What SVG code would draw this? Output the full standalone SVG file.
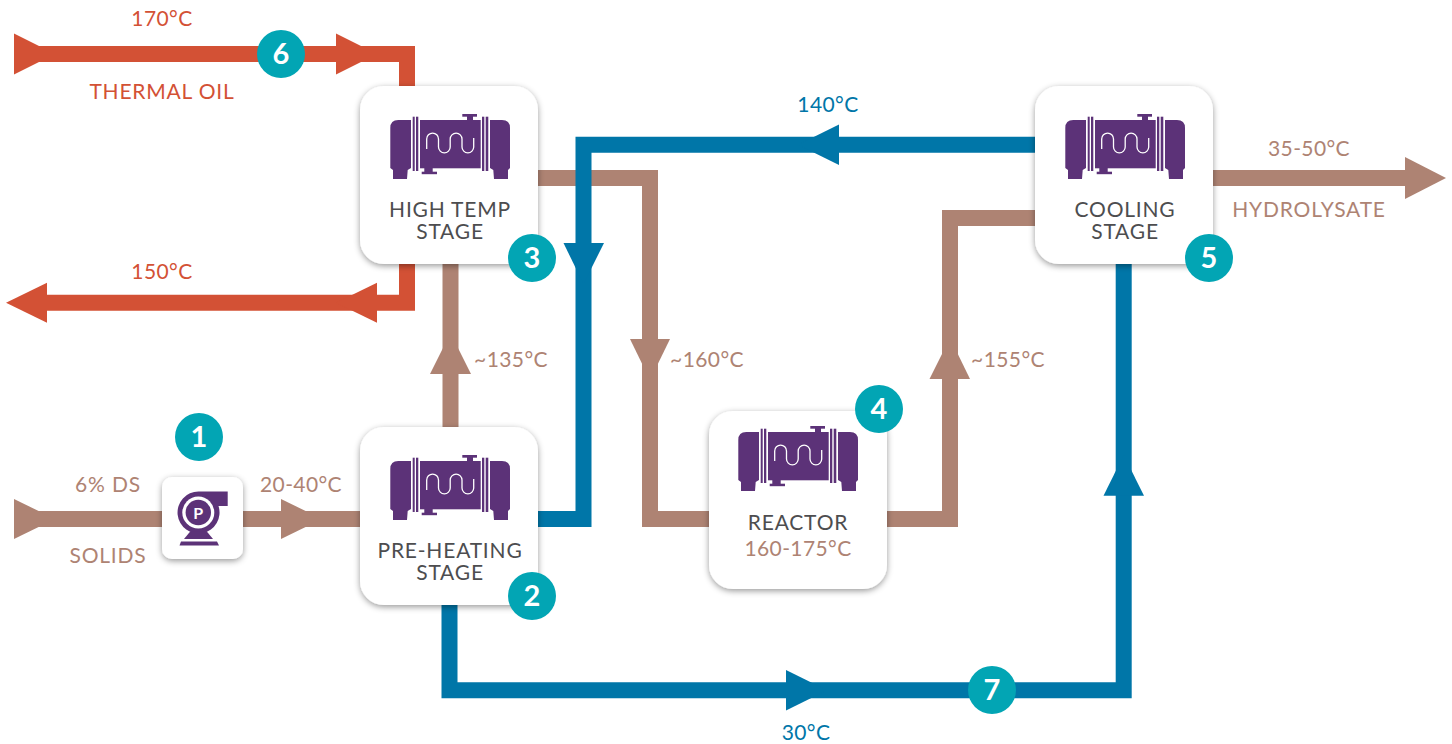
<svg xmlns="http://www.w3.org/2000/svg" width="1452" height="744" viewBox="0 0 1452 744">
<style>
text{font-family:Lato,"Open Sans",sans-serif;font-size:21px;text-anchor:middle;letter-spacing:.8px}
.t{letter-spacing:.4px}
.r{fill:#d35135}.b{fill:#ae8373}.u{fill:#0076a8}.d{fill:#4d4d4f}
.pr{fill:none;stroke:#d35135;stroke-width:16}
.pb{fill:none;stroke:#ae8373;stroke-width:16}
.pu{fill:none;stroke:#0076a8;stroke-width:16}
.box{fill:#fff;filter:url(#sh)}
.c{fill:#02a5b4}
.n{fill:#fff;font-size:29px;font-weight:700;letter-spacing:0}
.i{fill:#5c3278}
</style>
<defs>
<filter id="sh" x="-15%" y="-15%" width="130%" height="130%"><feDropShadow dx="0" dy="2" stdDeviation="3" flood-color="#000" flood-opacity=".4"/></filter>
<g id="hx">
<path class="i" d="M390.300 128q0-8 8-8H411V168L407.700 170L407 179H393V170L390.300 168Z"/>
<rect class="i" x="412.700" y="116.700" width="2" height="54.300"/><rect class="i" x="416" y="116.700" width="2.300" height="54.300"/>
<rect class="i" x="420" y="120" width="60.700" height="48.300"/>
<rect class="i" x="467" y="116" width="6" height="4"/><rect class="i" x="462.300" y="114" width="14.700" height="2.700"/>
<rect class="i" x="424.300" y="168" width="8.400" height="5"/><rect class="i" x="421.700" y="171.700" width="15.300" height="2.500"/>
<rect class="i" x="482" y="116.700" width="2.300" height="54.300"/><rect class="i" x="485.700" y="116.700" width="2.600" height="54.300"/>
<path class="i" d="M510 128q0-8-8-8H490V168L493.300 170L494 179H508V170L510 168Z"/>
<path d="M426.700 149V139a5.900 5.900 0 0 1 11.800 0V147a5.850 5.850 0 0 0 11.700 0V139a5.900 5.900 0 0 1 11.800 0V147a5.850 5.850 0 0 0 11.700 0V138" fill="none" stroke="#fff" stroke-width="1.300"/>
</g>
</defs>
<g id="connectors">
<g id="oil">
<path class="pr" d="M30 54H407V100"/><path class="pr" d="M407 250V302.700H30"/>
<path class="r" d="M14 33.500L55 54L14 74.500Z"/><path class="r" d="M336 33.500L377 54L336 74.500Z"/>
<path class="r" d="M6 302.700L47 282.700V322.700Z"/><path class="r" d="M336 302.700L377 282.700V322.700Z"/>
</g>
<g id="product">
<path class="pb" d="M30 519H370"/><path class="pb" d="M450.500 440V260"/><path class="pb" d="M525 178H650V519H720"/><path class="pb" d="M875 519H950V218H1050"/><path class="pb" d="M1200 178H1410"/>
<path class="b" d="M14 499L55 519L14 539Z"/><path class="b" d="M281 499L322 519L281 539Z"/>
<path class="b" d="M450.500 333L471 374H430Z"/><path class="b" d="M650 380L630 339H670Z"/><path class="b" d="M950 338L970 379H929.500Z"/>
<path class="b" d="M1446 178L1405 157V199Z"/>
</g>
<g id="water">
<path class="pu" d="M525 519H583.500V144.700H1050"/><path class="pu" d="M449.500 590V690.300H1123.700V250"/>
<path class="u" d="M798 144.700L839 124.500V165Z"/><path class="u" d="M583.500 284L563.500 243H604Z"/>
<path class="u" d="M827 690.300L786 670V710.500Z"/><path class="u" d="M1123.700 455L1144 495.700H1103.500Z"/>
</g>
</g>
<g id="node-pump">
<rect class="box" x="162" y="477" width="81" height="82" rx="10"/>
<path class="i" d="M198.500 491.500H227.700V506H218.500A21 21 0 1 1 198.500 491.500Z"/>
<circle cx="198.300" cy="512.500" r="16" fill="#fff"/>
<circle class="i" cx="198.300" cy="512.500" r="12.700"/>
<text x="198.300" y="518.500" style="fill:#fff;font-size:16px;font-weight:700;letter-spacing:0">P</text>
<path class="i" d="M190 531.700H207L213 539H184Z"/><path class="i" d="M181 541.500H217L219 545.500H179.500Z"/>
</g>
<g id="node-preheat">
<rect class="box" x="360" y="427" width="178" height="178" rx="24"/>
<use href="#hx" y="341"/>
<text class="d" x="450"><tspan x="450" y="558">PRE-HEATING</tspan><tspan x="450" y="580">STAGE</tspan></text>
</g>
<g id="node-hightemp">
<rect class="box" x="360" y="86" width="178" height="178" rx="24"/>
<use href="#hx"/>
<text class="d" x="450"><tspan x="450" y="217">HIGH TEMP</tspan><tspan x="450" y="239">STAGE</tspan></text>
</g>
<g id="node-reactor">
<rect class="box" x="709" y="411" width="178" height="178" rx="24"/>
<use href="#hx" x="348" y="312"/>
<text class="d" x="798" y="530">REACTOR</text><text class="b t" x="798" y="556">160-175°C</text>
</g>
<g id="node-cooling">
<rect class="box" x="1035" y="86" width="178" height="178" rx="24"/>
<use href="#hx" x="675"/>
<text class="d" x="1125"><tspan x="1125" y="217">COOLING</tspan><tspan x="1125" y="239">STAGE</tspan></text>
</g>
<g id="badges">
<circle class="c" cx="199" cy="437" r="24"/><text class="n" x="199" y="447">1</text>
<circle class="c" cx="532" cy="596" r="24"/><text class="n" x="532" y="606">2</text>
<circle class="c" cx="532" cy="258" r="24"/><text class="n" x="532" y="268">3</text>
<circle class="c" cx="879" cy="409" r="24"/><text class="n" x="879" y="419">4</text>
<circle class="c" cx="1209" cy="258" r="24"/><text class="n" x="1209" y="268">5</text>
<circle class="c" cx="281" cy="54" r="24"/><text class="n" x="281" y="64">6</text>
<circle class="c" cx="992" cy="690" r="24"/><text class="n" x="992" y="700">7</text>
</g>
<g id="labels">
<text class="r t" x="162" y="26">170°C</text><text class="r" x="162" y="99">THERMAL OIL</text><text class="r t" x="162" y="279">150°C</text>
<text class="b" x="108" y="492">6% DS</text><text class="b" x="108" y="563">SOLIDS</text><text class="b t" x="301" y="492">20-40°C</text>
<text class="b t" x="511" y="367">~135°C</text><text class="b t" x="707" y="367">~160°C</text><text class="b t" x="1008" y="367">~155°C</text>
<text class="b t" x="1309" y="156">35-50°C</text><text class="b" x="1309" y="217">HYDROLYSATE</text>
<text class="u t" x="828" y="112">140°C</text><text class="u t" x="806" y="740">30°C</text>
</g>
</svg>
